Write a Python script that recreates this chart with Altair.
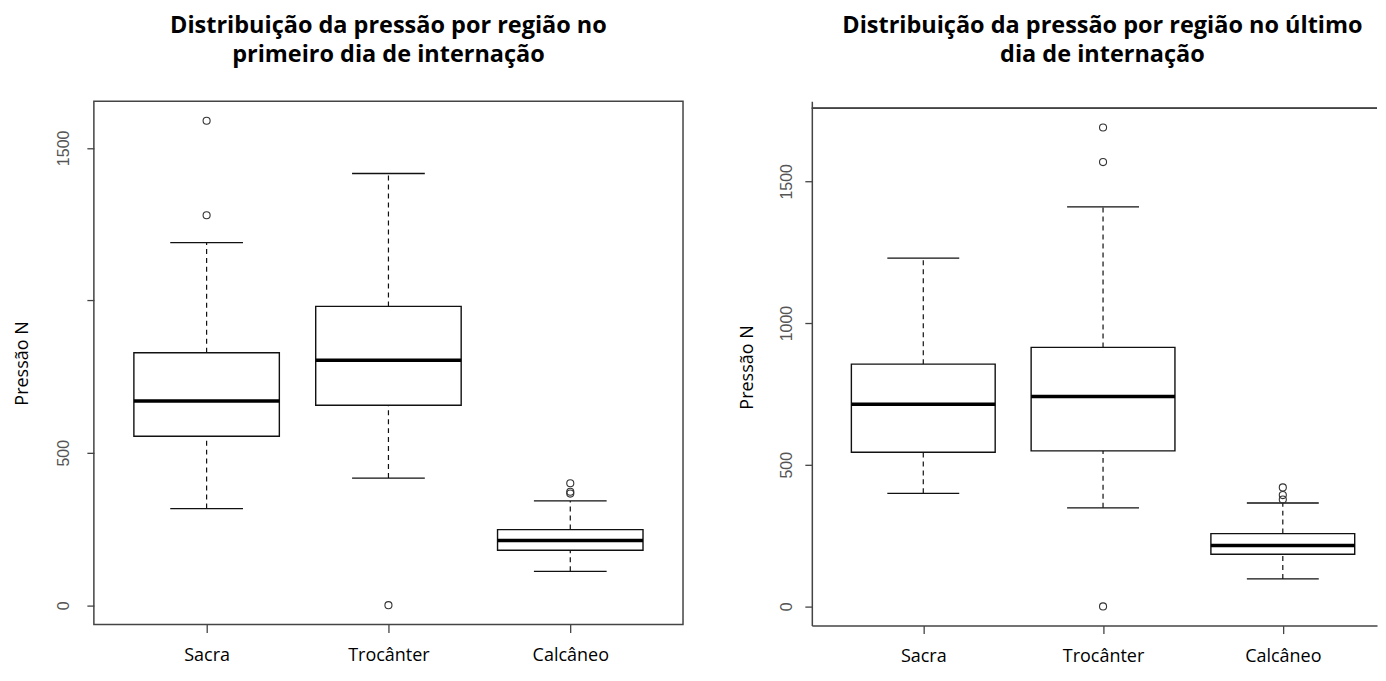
import altair as alt
import pandas as pd

# ---------------- data ----------------
categories = ["Sacra", "Trocânter", "Calcâneo"]
positions = [1, 2, 3]

# first day of hospitalisation
first_low = [317, 417, 111]
first_q1 = [554, 656, 180]
first_median = [670, 803, 212]
first_q3 = [828, 980, 248]
first_high = [1189, 1416, 342]
first_out_cat = ["Sacra", "Sacra", "Trocânter", "Calcâneo", "Calcâneo", "Calcâneo"]
first_out_val = [1589, 1279, 0, 400, 372, 366]

# last day of hospitalisation
last_low = [399, 348, 97]
last_q1 = [544, 549, 184]
last_median = [713, 741, 215]
last_q3 = [855, 914, 257]
last_high = [1229, 1410, 365]
last_out_cat = ["Trocânter", "Trocânter", "Trocânter", "Calcâneo", "Calcâneo", "Calcâneo"]
last_out_val = [1690, 1568, 0, 420, 393, 377]

y_ticks = [0, 500, 1000, 1500]

TEXT_FONT = "Open Sans"
TICK_FONT = "Liberation Sans"
FRAME = "#444444"


def panel(title_lines, low, q1, med, q3, high, out_cat, out_val,
          width, height, x_domain, y_domain, hidden_labels, title_offset,
          title_dx, axis_title_x, label_pad, full_frame, top_gap):
    pos_of = dict(zip(categories, positions))
    box = pd.DataFrame({
        "cat": categories, "pos": positions, "low": low, "q1": q1,
        "med": med, "q3": q3, "high": high,
    })
    outs = pd.DataFrame({"cat": out_cat, "val": out_val})
    outs["pos"] = outs["cat"].map(pos_of)

    xs = alt.Scale(domain=x_domain, nice=False, zero=False)
    ys = alt.Scale(domain=y_domain, nice=False, zero=False)

    label_expr = "{" + ",".join(f"'{p}':'{c}'" for p, c in zip(positions, categories)) + "}[datum.value]"
    hide = " || ".join(f"datum.value == {h}" for h in hidden_labels) if hidden_labels else "false"

    x_axis = alt.Axis(values=positions, labelExpr=label_expr, title=None, grid=False,
                      domain=not full_frame, domainColor=FRAME, domainWidth=1.5,
                      tickColor=FRAME, tickWidth=1.3, tickSize=8,
                      labelFont=TEXT_FONT, labelFontSize=18, labelColor="#000",
                      labelPadding=14)
    y_axis = alt.Axis(values=y_ticks, format="d",
                      labelExpr=f"({hide}) ? '' : '' + datum.value",
                      title="Pressão N", titleFont=TEXT_FONT, titleFontSize=18,
                      titleFontWeight="normal", titleColor="#000",
                      titleAngle=270, titleBaseline="middle", titleAlign="center",
                      titleX=axis_title_x, titleY=top_gap + (height - top_gap) / 2,
                      grid=False, domain=not full_frame, domainColor=FRAME, domainWidth=1.5,
                      tickColor=FRAME, tickWidth=1.3, tickSize=7,
                      labelFont=TICK_FONT, labelFontSize=16, labelColor="#555",
                      labelAngle=270, labelAlign="center", labelBaseline="bottom",
                      labelPadding=label_pad)

    base = alt.Chart(box).transform_calculate(
        xl="datum.pos - 0.4", xr="datum.pos + 0.4",
        sl="datum.pos - 0.2", sr="datum.pos + 0.2")

    X = lambda f: alt.X(f, scale=xs, axis=x_axis)
    Y = lambda f: alt.Y(f, scale=ys, axis=y_axis)

    whisk_up = base.mark_rule(color="#111", strokeWidth=1.2, strokeDash=[5, 4]).encode(
        x=X("pos:Q"), y=Y("q3:Q"), y2="high:Q")
    whisk_dn = base.mark_rule(color="#111", strokeWidth=1.2, strokeDash=[5, 4]).encode(
        x=X("pos:Q"), y=Y("low:Q"), y2="q1:Q")
    cap_hi = base.mark_rule(color="#111", strokeWidth=1.3).encode(
        x=X("sl:Q"), x2="sr:Q", y=Y("high:Q"))
    cap_lo = base.mark_rule(color="#111", strokeWidth=1.3).encode(
        x=X("sl:Q"), x2="sr:Q", y=Y("low:Q"))
    rect = base.mark_rect(fill="white", stroke="#111", strokeWidth=1.4).encode(
        x=X("xl:Q"), x2="xr:Q", y=Y("q1:Q"), y2="q3:Q")
    median = base.mark_rule(color="#000", strokeWidth=3.5).encode(
        x=X("xl:Q"), x2="xr:Q", y=Y("med:Q"))
    points = alt.Chart(outs).mark_point(shape="circle", filled=False, size=50,
                                        color="#333", strokeWidth=1.1, opacity=1).encode(
        x=X("pos:Q"), y=Y("val:Q"))

    layers = [whisk_up, whisk_dn, cap_hi, cap_lo, rect, median, points]
    if not full_frame:
        top_line = alt.Chart(box).mark_rule(color=FRAME, strokeWidth=1.5).encode(
            x=alt.value(0), x2=alt.value(width), y=alt.value(top_gap))
        layers.append(top_line)

    view = alt.ViewBackground(stroke=FRAME, strokeWidth=1.5) if full_frame \
        else alt.ViewBackground(stroke=None)

    return alt.layer(*layers).properties(
        width=width, height=height, view=view,
        title=alt.TitleParams(text=title_lines, font=TEXT_FONT, fontSize=23.5,
                              fontWeight="bold", color="#000", lineHeight=29,
                              anchor="middle", frame="group", offset=title_offset,
                              dx=title_dx),
    )


left = panel(["Distribuição da pressão por região no", "primeiro dia de internação"],
             first_low, first_q1, first_median, first_q3, first_high,
             first_out_cat, first_out_val,
             width=590, height=524, x_domain=[0.38, 3.62], y_domain=[-63.6, 1652.6],
             hidden_labels=[1000], title_offset=35, title_dx=0,
             axis_title_x=-71, label_pad=15, full_frame=True, top_gap=0)

right = panel(["Distribuição da pressão por região no último", "dia de internação"],
              last_low, last_q1, last_median, last_q3, last_high,
              last_out_cat, last_out_val,
              width=566, height=525, x_domain=[0.38, 3.524], y_domain=[-67.6, 1782.3],
              hidden_labels=[], title_offset=35, title_dx=8,
              axis_title_x=-64, label_pad=10, full_frame=False, top_gap=7)

chart = alt.hconcat(left, right, spacing=55).properties(
    padding={"left": 5, "top": 4, "right": 0, "bottom": 0},
    background="white",
)

chart.save("out.html", embed_options={"renderer": "svg", "actions": False})
